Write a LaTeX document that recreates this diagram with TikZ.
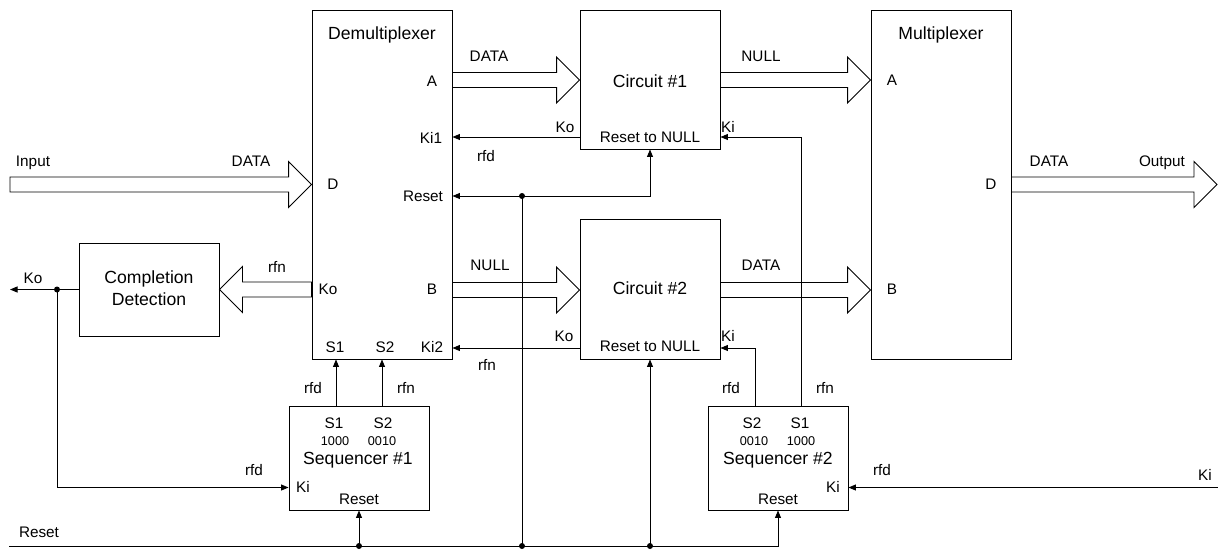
\documentclass[tikz,border=0pt]{standalone}
\usepackage{fontspec}
\setmainfont{Liberation Sans}
\usetikzlibrary{calc,arrows.meta}
\newcommand\fbig{\fontsize{17.6}{20}\selectfont}
\newcommand\fmed{\fontsize{15.3}{18}\selectfont}
\newcommand\fsml{\fontsize{12.7}{15}\selectfont}
% #1 start, #2 end, #3 direction (1 = right, -1 = left)
\newcommand\fatarrow[3]{%
  \draw[fat] let \p1=#1, \p2=#2 in
    ({\x1},{\y2+7.5pt}) -- ({\x2-(#3)*23pt},{\y2+7.5pt}) -- ({\x2-(#3)*23pt},{\y2+23pt})
    -- ({\x2},{\y2}) -- ({\x2-(#3)*23pt},{\y2-23pt}) -- ({\x2-(#3)*23pt},{\y2-7.5pt})
    -- ({\x1},{\y2-7.5pt}) -- cycle;}
\begin{document}
\begin{tikzpicture}[x=1pt,y=-1pt,line width=0.9pt,
  box/.style={draw,inner sep=0pt,minimum width=140pt},
  fat/.style={draw,line join=miter},
  sig/.style={-{Triangle[length=7.5pt,width=6pt]}},
  big/.style={font=\fbig,inner sep=0pt,text height=12.6pt,text depth=0pt},
  med/.style={font=\fmed,inner sep=0pt,text height=11pt,text depth=0pt},
  sml/.style={font=\fsml,inner sep=0pt,text height=9.1pt,text depth=0pt}]
\useasboundingbox (0,0) rectangle (1218,550);

% boxes
\node[box,minimum height=349pt] (demux) at (382,184.5) {};
\node[box,minimum height=139pt] (circ1) at (650,79.5) {};
\node[box,minimum height=140pt] (circ2) at (650,289) {};
\node[box,minimum height=349pt] (mux) at (941,184.5) {};
\node[box,minimum height=93pt] (comp) at (149,289.5) {};
\node[box,minimum height=104pt] (seq1) at (359,458) {};
\node[box,minimum height=104pt] (seq2) at (778,458) {};

% helper coordinates
\coordinate (ya) at (0,80);
\coordinate (yb) at (0,290);
\coordinate (yko) at (0,289.5);
\coordinate (inL) at (10,184.5);
\coordinate (outR) at (1217,184.5);
\coordinate (yki1) at (0,137);
\coordinate (yki2) at (0,348);
\coordinate (yseqki) at (0,487.5);

% fat data arrows
\fatarrow{(inL)}{(demux.west)}{1}
\fatarrow{(demux.east |- ya)}{(circ1.west |- ya)}{1}
\fatarrow{(circ1.east |- ya)}{(mux.west |- ya)}{1}
\fatarrow{(demux.east |- yb)}{(circ2.west |- yb)}{1}
\fatarrow{(circ2.east |- yb)}{(mux.west |- yb)}{1}
\fatarrow{(mux.east)}{(outR)}{1}
\fatarrow{(demux.west |- yko)}{(comp.east |- yko)}{-1}

% handshake signals
\draw[sig] (circ1.west |- yki1) -- (demux.east |- yki1);
\coordinate (j1) at (522,196);
\draw[sig] (j1) -- (demux.east |- j1);
\draw[sig] (j1) -| (circ1.south);
\coordinate (s2a) at ($(seq2.north)+(23,0)$);
\draw[sig] (s2a) |- (circ1.east |- yki1);
\draw[sig] (circ2.west |- yki2) -- (demux.east |- yki2);
\coordinate (s2b) at ($(seq2.north)+(-23,0)$);
\draw[sig] (s2b) |- (circ2.east |- yki2);
\coordinate (s1a) at ($(seq1.north)+(-23,0)$);
\draw[sig] (s1a) -- (s1a |- demux.south);
\coordinate (s1b) at ($(seq1.north)+(23,0)$);
\draw[sig] (s1b) -- (s1b |- demux.south);
\coordinate (koL) at (10,289.5);
\draw[sig] (comp.west) -- (koL);
\coordinate (j0) at (57,289.5);
\draw[sig] (j0) |- (seq1.west |- yseqki);
\coordinate (kiR) at (1218,487.5);
\draw[sig] (kiR) -- (seq2.east |- kiR);

% reset bus
\coordinate (rst0) at (9,546);
\draw[sig] (rst0) -| (seq2.south);
\coordinate (j2) at (seq1.south |- rst0);
\draw[sig] (j2) -- (seq1.south);
\coordinate (j3) at (j1 |- rst0);
\draw (j3) -- (j1);
\coordinate (j4) at (circ2.south |- rst0);
\draw[sig] (j4) -- (circ2.south);
\foreach \d in {j0,j1,j2,j3,j4} \fill (\d) circle (3pt);

% texts
\node[big] (tdemux) at (382,33) {Demultiplexer};
\node[med] (tda) at (432,81) {A};
\node[med] (tdki1) at (431,138) {Ki1};
\node[med] (tdd) at (333,184) {D};
\node[med] (tdrst) at (423,196) {Reset};
\node[med] (tdko) at (328,289) {Ko};
\node[med] (tdb) at (432,289) {B};
\node[med] (tds1) at (335,347) {S1};
\node[med] (tds2) at (385,347) {S2};
\node[med] (tdki2) at (432,347) {Ki2};

\node[big] (tc1) at (650,81) {Circuit \#1};
\node[med] (tc1r) at (650,137) {Reset to NULL};
\node[med] (tc1ko) at (565,127) {Ko};
\node[med] (tc1ki) at (728,127) {Ki};
\node[med] (tc1rfd) at (486,156) {rfd};

\node[big] (tc2) at (650,288) {Circuit \#2};
\node[med] (tc2r) at (650,346) {Reset to NULL};
\node[med] (tc2ko) at (564,336) {Ko};
\node[med] (tc2ki) at (728,336) {Ki};
\node[med] (tc2rfn) at (487,365) {rfn};

\node[big] (tmux) at (941,33) {Multiplexer};
\node[med] (tma) at (892,80) {A};
\node[med] (tmb) at (892,289) {B};
\node[med] (tmd) at (991,184) {D};

\node[med] (tin) at (33,161) {Input};
\node[med] (tindata) at (251,161) {DATA};
\node[med] (tadata) at (489,56) {DATA};
\node[med] (tanull) at (761,56) {NULL};
\node[med] (tbnull) at (490,265) {NULL};
\node[med] (tbdata) at (761,265) {DATA};
\node[med] (toutdata) at (1049,161) {DATA};
\node[med] (tout) at (1162,161) {Output};

\node[big] (tcomp1) at (149,277) {Completion};
\node[big] (tcomp2) at (149,299) {Detection};
\node[med] (tcrfn) at (277,267) {rfn};
\node[med] (tko) at (33,278) {Ko};

\node[med] (t1rfd) at (313,388) {rfd};
\node[med] (t1rfn) at (406,388) {rfn};
\node[med] (tq1s1) at (334,423) {S1};
\node[med] (tq1s2) at (383,423) {S2};
\node[sml] (tq1c1) at (335,441) {1000};
\node[sml] (tq1c2) at (382,441) {0010};
\node[big] (tq1) at (358,458) {Sequencer \#1};
\node[med] (tq1ki) at (303,487) {Ki};
\node[med] (tq1r) at (359,499) {Reset};
\node[med] (tq1rfd) at (254,470) {rfd};
\node[med] (trst) at (39,532) {Reset};

\node[med] (t2rfd) at (731,388) {rfd};
\node[med] (t2rfn) at (825,388) {rfn};
\node[med] (tq2s2) at (752,423) {S2};
\node[med] (tq2s1) at (800,423) {S1};
\node[sml] (tq2c1) at (754,441) {0010};
\node[sml] (tq2c2) at (801,441) {1000};
\node[big] (tq2) at (778,458) {Sequencer \#2};
\node[med] (tq2ki) at (833,487) {Ki};
\node[med] (tq2r) at (778,499) {Reset};
\node[med] (tq2rfd) at (882,470) {rfd};
\node[med] (tkir) at (1205,475) {Ki};
\end{tikzpicture}
\end{document}
